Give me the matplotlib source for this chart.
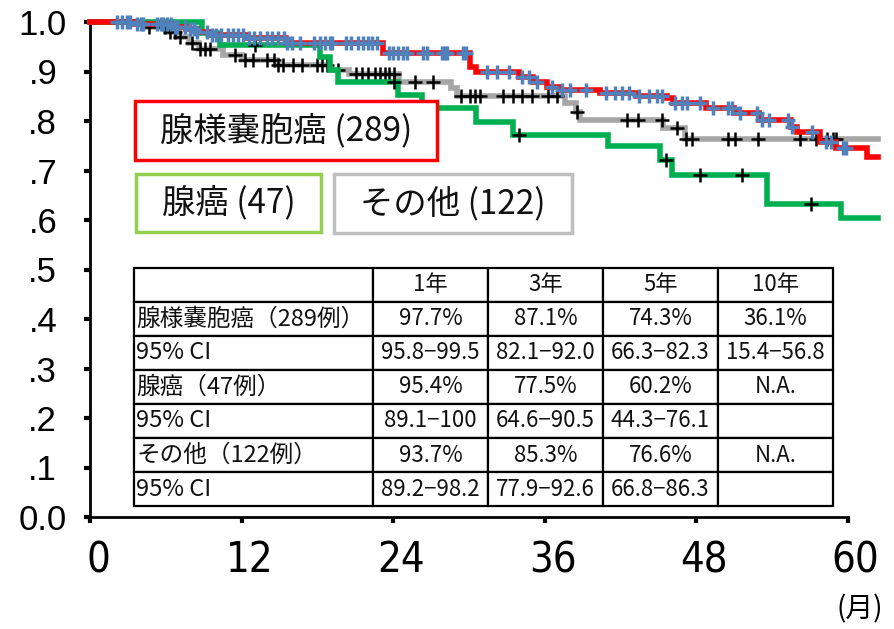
import matplotlib
matplotlib.use('Agg')
import matplotlib.pyplot as plt
import numpy as np
from matplotlib import font_manager
from matplotlib.patches import Rectangle
from matplotlib.transforms import ScaledTranslation

plt.rcParams['font.family'] = ['Noto Sans CJK JP', 'DejaVu Sans']

# 腺様嚢胞癌 (289) - red, blue censor marks
acc_t = [0, 3.5, 6.7, 7.6, 8.5, 9.5, 12.5, 15.5, 23.2, 30.1, 30.6, 34.0, 35.1, 36.2,
         37.2, 40.4, 43.2, 45.7, 46.2, 48.8, 51.0, 53.0, 55.5, 56.0, 57.8, 59.1, 61.5]
acc_s = [1.0, 0.995, 0.99, 0.986, 0.98, 0.974, 0.968, 0.958, 0.937, 0.909, 0.899, 0.889,
         0.879, 0.869, 0.863, 0.857, 0.85, 0.846, 0.836, 0.826, 0.816, 0.802, 0.788,
         0.778, 0.758, 0.745, 0.727]
acc_c = [2.1, 2.5, 2.9, 3.2, 3.7, 4.0, 4.2, 5.3, 5.6, 5.8, 6.1, 6.4, 6.7, 6.9, 7.5, 7.9,
         8.2, 8.5, 9.3, 9.7, 10.0, 10.4, 10.9, 11.3, 11.7, 12.1, 12.6, 13.0, 13.5, 14.0,
         14.4, 14.9, 15.4, 15.6, 16.0, 16.6, 17.7, 18.2, 18.6, 19.0, 19.2, 20.3, 20.7,
         21.2, 21.6, 22.0, 22.3, 22.7, 23.7, 24.0, 24.4, 24.8, 25.1, 26.4, 26.7, 27.9,
         28.1, 28.3, 29.5, 29.8, 31.4, 32.2, 33.2, 34.2, 34.8, 35.4, 36.6, 37.4, 38.0,
         39.3, 40.9, 41.6, 42.1, 42.7, 43.5, 44.3, 44.9, 45.3, 46.3, 46.9, 47.3, 48.3,
         49.3, 50.5, 50.8, 51.5, 52.8, 53.2, 53.8, 55.3, 55.6, 57.2, 58.3, 58.7, 59.6, 59.9]

# 腺癌 (47) - green
ad_t = [0, 8.9, 10.3, 18.2, 19.0, 19.6, 24.4, 26.3, 30.6, 33.5, 41.0, 45.1, 46.1, 53.6, 59.5]
ad_s = [1.0, 0.978, 0.953, 0.93, 0.903, 0.879, 0.853, 0.826, 0.798, 0.772, 0.75, 0.721,
        0.691, 0.632, 0.604]
ad_c = [13.1, 24.1, 34.0, 45.6, 48.3, 51.6, 57.1]

# その他 (122) - gray
oth_t = [0, 4.5, 6.0, 6.8, 7.8, 8.6, 10.5, 12.0, 14.8, 19.0, 20.5, 24.5, 28.6, 29.1,
         37.6, 38.5, 38.8, 45.4, 47.1]
oth_s = [1.0, 0.99, 0.98, 0.97, 0.958, 0.945, 0.933, 0.923, 0.913, 0.903, 0.895, 0.879,
         0.867, 0.85, 0.836, 0.818, 0.802, 0.786, 0.764]
oth_c = [4.7, 5.9, 6.3, 6.7, 7.1, 8.1, 8.7, 9.1, 9.5, 11.5, 12.3, 12.9, 14.0, 14.6, 14.9,
         15.3, 16.1, 16.8, 18.0, 18.4, 18.8, 19.6, 21.1, 21.5, 22.0, 22.6, 23.0, 23.4,
         23.7, 24.1, 25.7, 27.2, 29.4, 30.1, 30.5, 30.9, 32.7, 33.5, 34.2, 35.0, 36.3,
         37.0, 38.6, 42.5, 43.4, 45.3, 46.5, 47.2, 47.7, 50.5, 51.1, 52.9, 56.2, 57.5,
         58.4, 58.8, 59.1]

x_end = 62.4
y_ticks = [0.0, 0.1, 0.2, 0.3, 0.4, 0.5, 0.6, 0.7, 0.8, 0.9, 1.0]
y_labels = ['0.0', '.1', '.2', '.3', '.4', '.5', '.6', '.7', '.8', '.9', '1.0']
x_ticks = [0, 12, 24, 36, 48, 60]

legend_items = ['腺様嚢胞癌 (289)', '腺癌 (47)', 'その他 (122)']

tbl_header = ['', '1年', '3年', '5年', '10年']
tbl_rows = [
    ['腺様嚢胞癌（289例）', '97.7%', '87.1%', '74.3%', '36.1%'],
    ['95% CI', '95.8−99.5', '82.1−92.0', '66.3−82.3', '15.4−56.8'],
    ['腺癌（47例）', '95.4%', '77.5%', '60.2%', 'N.A.'],
    ['95% CI', '89.1−100', '64.6−90.5', '44.3−76.1', ''],
    ['その他（122例）', '93.7%', '85.3%', '76.6%', 'N.A.'],
    ['95% CI', '89.2−98.2', '77.9−92.6', '66.8−86.3', ''],
]

W, H = 895, 629
fig = plt.figure(figsize=(W / 100, H / 100), dpi=100)
ax = fig.add_axes([90 / W, 112 / H, 788 / W, 495 / H])


def step_at(times, surv, c):
    idx = np.searchsorted(times, c, side='right') - 1
    return np.asarray(surv)[idx]


def draw_curve(times, surv, cens, color, mcolor, mew, order):
    t = list(times) + [x_end]
    s = list(surv) + [surv[-1]]
    ax.step(t, s, where='post', color=color, lw=4, zorder=order, clip_on=False,
            solid_joinstyle='miter')
    ax.plot(cens, step_at(times, surv, cens), '+', color=mcolor, ms=10, mew=mew,
            zorder=order + 0.5, clip_on=False)


draw_curve(oth_t, oth_s, oth_c, '#A6A6A6', 'black', 1.8, 3)
draw_curve(ad_t, ad_s, ad_c, '#00B050', 'black', 1.8, 4)
draw_curve(acc_t, acc_s, acc_c, '#FF0000', '#4F81BD', 2.5, 5)

ax.set_xlim(0, x_end)
ax.set_ylim(0, 1.0)
for sp in ['top', 'right']:
    ax.spines[sp].set_visible(False)
ax.spines['left'].set_linewidth(2)
ax.spines['bottom'].set_linewidth(2)
ax.spines['bottom'].set_bounds(0, 60)

ax.set_yticks(y_ticks)
ax.set_yticklabels(y_labels, fontsize=25, family='Liberation Sans')
ax.tick_params(axis='y', length=4, width=3, direction='out', pad=30)
for lab in ax.get_yticklabels():
    lab.set_ha('center')

# a narrow face for the month numbers, if one is installed
narrow = None
for f in font_manager.fontManager.ttflist:
    if 'Narrow' in f.name or 'Condensed' in f.name or f.stretch in ('condensed', 'semi-condensed'):
        if f.weight in (400, 'normal', 'regular') and f.style == 'normal':
            narrow = f.fname
            break
if narrow:
    xprop = font_manager.FontProperties(fname=narrow, size=30)
else:
    xprop = font_manager.FontProperties(family='Liberation Sans', size=28)
ax.set_xticks(x_ticks)
ax.set_xticklabels([str(v) for v in x_ticks], fontproperties=xprop)
ax.tick_params(axis='x', length=4, width=3, direction='out', pad=12)
off = ScaledTranslation(8 / 100, 0, fig.dpi_scale_trans)
for lab in ax.get_xticklabels():
    lab.set_transform(lab.get_transform() + off)

fig.text(860 / W, 1 - 609 / H, '(月)', fontsize=20, ha='center', va='center',
         family=['Noto Sans CJK JP'])

# legend boxes
boxes = [(135, 101, 302, 59, '#FF0000'), (136, 174, 185, 58, '#92D050'),
         (334, 174, 238, 59, '#BFBFBF')]
for (bx, by, bw, bh, ec), label in zip(boxes, legend_items):
    fig.patches.append(Rectangle((bx / W, 1 - (by + bh) / H), bw / W, bh / H,
                                 transform=fig.transFigure, fill=True, fc='white',
                                 ec=ec, lw=2.5, zorder=6))
    fig.text((bx + bw / 2) / W, 1 - (by + bh / 2) / H, label, fontsize=24,
             ha='center', va='center', zorder=7, color='#111111')

# table
tax = fig.add_axes([134 / W, 1 - 506 / H, 699 / W, 238 / H], zorder=8)
tax.axis('off')
cells = [tbl_header] + tbl_rows
table = tax.table(cellText=cells, bbox=[0, 0, 1, 1],
                  colWidths=[239, 115, 115, 115, 115], cellLoc='center')
table.auto_set_font_size(False)
for (r, c), cell in table.get_celld().items():
    cell.set_linewidth(1.6)
    cell.set_edgecolor('black')
    cell.get_text().set_fontsize(16)
    cell.get_text().set_color('#111111')
    if c == 0:
        cell.PAD = 0.01
        cell.get_text().set_fontsize(17)
        cell.get_text().set_ha('left')
        cell._loc = 'left'

fig.savefig('out.png', dpi=100)
